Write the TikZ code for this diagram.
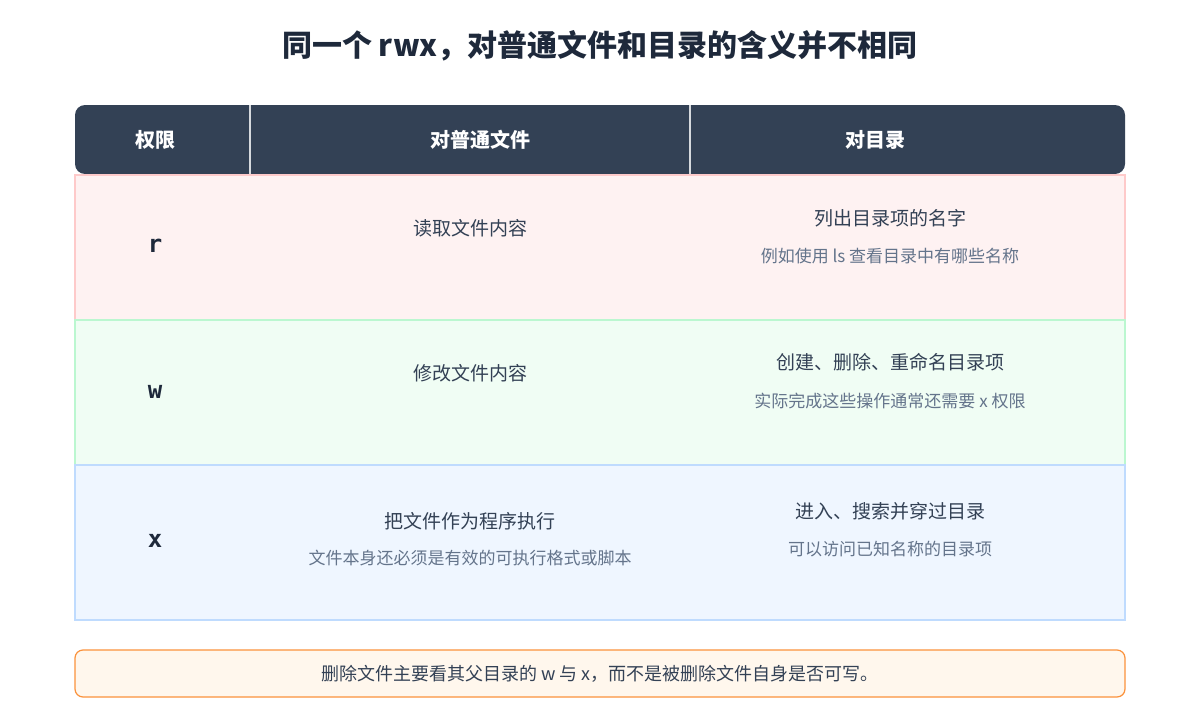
\documentclass[tikz,border=0pt]{standalone}
\usepackage{fontspec}
\setmainfont{Noto Sans CJK SC}
\newfontfamily\cjkb[BoldFont={Noto Sans CJK SC Bold}]{Noto Sans CJK SC}
\newfontfamily\monob{DejaVu Sans Mono Bold}
\definecolor{hdr}{HTML}{334155}
\definecolor{ttl}{HTML}{1E293B}
\definecolor{txt}{HTML}{334155}
\definecolor{sub}{HTML}{64748B}
\definecolor{rf}{HTML}{FEF2F2}\definecolor{rb}{HTML}{FECACA}
\definecolor{gf}{HTML}{F0FDF4}\definecolor{gb}{HTML}{BBF7D0}
\definecolor{bf}{HTML}{EFF6FF}\definecolor{bb}{HTML}{BFDBFE}
\definecolor{nf}{HTML}{FFF7ED}\definecolor{nb}{HTML}{FB923C}
\begin{document}
\begin{tikzpicture}[x=1pt,y=-1pt,
  main/.style={text=txt,font=\fontsize{19}{22}\selectfont,anchor=center},
  subt/.style={text=sub,font=\fontsize{17}{20}\selectfont,anchor=center},
  let/.style={text=ttl,font=\monob\fontsize{24}{26}\selectfont,anchor=center},
  hd/.style={text=white,font=\bfseries\fontsize{20}{24}\selectfont,anchor=center}]
\useasboundingbox[fill=white] (0,0) rectangle (1200,720);
\node[text=ttl,font=\bfseries\fontsize{30}{36}\selectfont] (title) at (600,46) {同一个 rwx，对普通文件和目录的含义并不相同};
\fill[hdr,rounded corners=10pt] (75,105) rectangle (1125,174);
\draw[white!80!hdr,line width=1.5pt] (250,105) -- (250,174) (690,105) -- (690,174);
\node[hd] (h1) at (155,140) {权限};
\node[hd] (h2) at (480,140) {对普通文件};
\node[hd] (h3) at (875,140) {对目录};
\draw[rb,fill=rf,line width=1.2pt] (75,175) rectangle (1125,320);
\draw[gb,fill=gf,line width=1.2pt] (75,320) rectangle (1125,465);
\draw[bb,fill=bf,line width=1.2pt] (75,465) rectangle (1125,620);
\node[let] (lr) at (155,246) {r};
\node[main] (r2) at (470,228) {读取文件内容};
\node[main] (r3) at (890,218) {列出目录项的名字};
\node[subt] (r3s) at (890,256) {例如使用 ls 查看目录中有哪些名称};
\node[let] (lw) at (155,392) {w};
\node[main] (w2) at (470,373) {修改文件内容};
\node[main] (w3) at (890,362) {创建、删除、重命名目录项};
\node[subt] (w3s) at (890,401) {实际完成这些操作通常还需要 x 权限};
\node[let] (lx) at (155,541) {x};
\node[main] (x2) at (470,521) {把文件作为程序执行};
\node[subt] (x2s) at (470,558) {文件本身还必须是有效的可执行格式或脚本};
\node[main] (x3) at (890,511) {进入、搜索并穿过目录};
\node[subt] (x3s) at (890,549) {可以访问已知名称的目录项};
\draw[nb,fill=nf,line width=1.2pt,rounded corners=8pt] (75,650) rectangle (1125,697);
\node[main,font=\fontsize{18}{22}\selectfont] (note) at (600,674) {删除文件主要看其父目录的 w 与 x，而不是被删除文件自身是否可写。};
\end{tikzpicture}
\end{document}
